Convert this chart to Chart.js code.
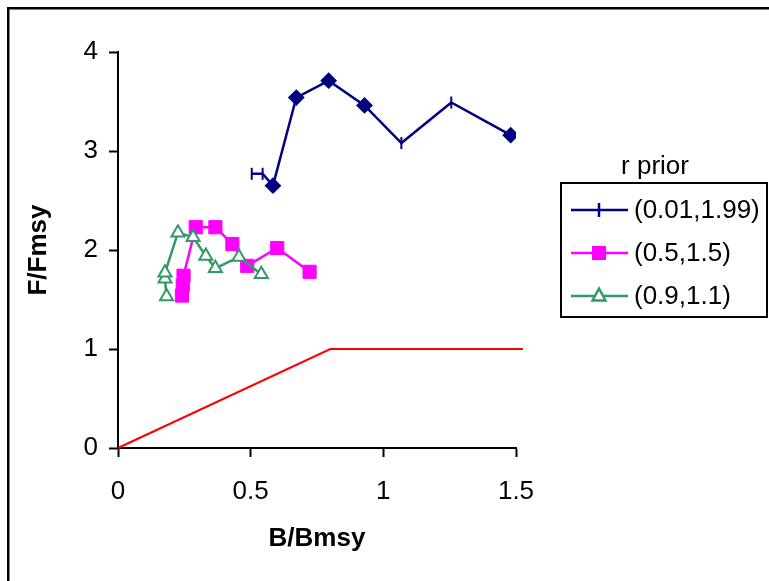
<!DOCTYPE html>
<html>
<head>
<meta charset="utf-8">
<script src="https://cdn.jsdelivr.net/npm/chart.js@4.4.1/dist/chart.umd.min.js"></script>
<style>
  body { margin: 0; background: #fff; }
  #wrap { width: 769px; height: 581px; }
</style>
</head>
<body>
<div id="wrap"><canvas id="chart" width="769" height="581"></canvas></div>
<script>
// r prior (0.01,1.99)
const wideX = [0.504, 0.545, 0.584, 0.672, 0.794, 0.929, 1.068, 1.256, 1.48];
const wideY = [2.77, 2.77, 2.65, 3.54, 3.71, 3.46, 3.08, 3.49, 3.16];
const wideMarks = ['tick', 'tick', 'diamond', 'diamond', 'diamond', 'diamond', 'tick', 'tick', 'diamond'];
// r prior (0.5,1.5)
const midX = [0.241, 0.244, 0.247, 0.293, 0.367, 0.431, 0.487, 0.600, 0.722];
const midY = [1.54, 1.64, 1.74, 2.23, 2.23, 2.06, 1.84, 2.02, 1.78];
// r prior (0.9,1.1)
const narrowX = [0.183, 0.177, 0.177, 0.226, 0.283, 0.331, 0.367, 0.456, 0.540];
const narrowY = [1.53, 1.71, 1.77, 2.175, 2.13, 1.94, 1.815, 1.93, 1.755];
// reference line
const refX = [0, 0.8, 1.526];
const refY = [0, 1, 1];

const seriesNames = ['(0.01,1.99)', '(0.5,1.5)', '(0.9,1.1)'];
const legendTitle = 'r prior';
const xTicks = [0, 0.5, 1, 1.5];
const yTicks = [0, 1, 2, 3, 4];

const FONT = "'Liberation Sans', Arial, sans-serif";
const NAVY = '#000080', PINK = '#FF00FF', GREEN = '#339966', RED = '#FF0000';

function pts(xs, ys) {
  return xs.map((x, i) => ({ x: x, y: ys[i] }));
}

// page frame + custom legend box
const framePlugin = {
  id: 'frame',
  beforeDraw(chart) {
    const ctx = chart.ctx;
    ctx.save();
    ctx.fillStyle = '#fff';
    ctx.fillRect(0, 0, chart.width, chart.height);
    ctx.fillStyle = '#000';
    ctx.fillRect(7, 7, 2.5, chart.height - 7);
    ctx.fillRect(7, 7, chart.width - 7, 2.5);
    ctx.restore();
  }
};

const legendPlugin = {
  id: 'boxLegend',
  afterDraw(chart) {
    const ctx = chart.ctx;
    ctx.save();
    ctx.font = '26px ' + FONT;
    ctx.fillStyle = '#000';
    ctx.textAlign = 'center';
    ctx.textBaseline = 'middle';
    ctx.fillText(legendTitle, 655, 167);
    ctx.lineWidth = 2;
    ctx.strokeStyle = '#000';
    ctx.strokeRect(561, 183, 206, 134);
    const rows = [210, 253, 296];
    const colors = [NAVY, PINK, GREEN];
    ctx.textAlign = 'left';
    rows.forEach((y, i) => {
      ctx.strokeStyle = colors[i];
      ctx.lineWidth = 2.5;
      ctx.beginPath();
      ctx.moveTo(571, y);
      ctx.lineTo(628, y);
      ctx.stroke();
      const cx = 599;
      if (i === 0) {
        ctx.beginPath();
        ctx.moveTo(cx, y - 7);
        ctx.lineTo(cx, y + 7);
        ctx.stroke();
      } else if (i === 1) {
        ctx.fillStyle = PINK;
        ctx.fillRect(cx - 7, y - 7, 14, 14);
      } else {
        ctx.fillStyle = '#fff';
        ctx.beginPath();
        ctx.moveTo(cx, y - 7.5);
        ctx.lineTo(cx + 6.5, y + 4.5);
        ctx.lineTo(cx - 6.5, y + 4.5);
        ctx.closePath();
        ctx.fill();
        ctx.stroke();
      }
      ctx.fillStyle = '#000';
      ctx.fillText(seriesNames[i], 634, y + 1);
    });
    ctx.restore();
  }
};

const wideStyle = wideMarks.map(m => m === 'tick' ? 'line' : 'rectRot');
const wideRot = wideMarks.map(m => m === 'tick' ? 90 : 0);
const wideRad = wideMarks.map(m => m === 'tick' ? 6 : 7);

new Chart(document.getElementById('chart'), {
  type: 'scatter',
  data: {
    datasets: [
      {
        label: 'ref',
        data: pts(refX, refY),
        showLine: true,
        borderColor: RED,
        borderWidth: 2,
        pointRadius: 0,
        clip: false,
        order: 4
      },
      {
        label: seriesNames[0],
        data: pts(wideX, wideY),
        showLine: true,
        borderColor: NAVY,
        backgroundColor: NAVY,
        borderWidth: 2.5,
        pointStyle: wideStyle,
        pointRotation: wideRot,
        pointRadius: wideRad,
        pointBorderWidth: 2,
        order: 3
      },
      {
        label: seriesNames[1],
        data: pts(midX, midY),
        showLine: true,
        borderColor: PINK,
        backgroundColor: PINK,
        borderWidth: 2.5,
        pointStyle: 'rect',
        pointRadius: 9.3,
        pointBorderWidth: 1,
        order: 2
      },
      {
        label: seriesNames[2],
        data: pts(narrowX, narrowY),
        showLine: true,
        borderColor: GREEN,
        backgroundColor: '#fff',
        borderWidth: 2.5,
        pointStyle: 'triangle',
        pointRadius: 7.5,
        pointBorderWidth: 2,
        order: 1
      }
    ]
  },
  options: {
    responsive: false,
    animation: false,
    layout: { padding: { left: 8, top: 52, right: 253, bottom: 0 } },
    plugins: {
      legend: { display: false },
      tooltip: { enabled: false }
    },
    scales: {
      x: {
        type: 'linear',
        min: 0,
        max: 1.5,
        afterFit(scale) { scale.height = 133; },
        afterBuildTicks(scale) { scale.ticks = xTicks.map(v => ({ value: v })); },
        grid: { drawOnChartArea: false, drawTicks: true, tickLength: 9, tickWidth: 2, color: '#000' },
        border: { color: '#000', width: 2 },
        ticks: {
          color: '#000',
          padding: 19,
          font: { family: FONT, size: 26 },
          callback: v => String(v)
        },
        title: {
          display: true,
          text: 'B/Bmsy',
          color: '#000',
          font: { family: FONT, size: 26, weight: 'bold' },
          padding: { top: 0, bottom: 27 }
        }
      },
      y: {
        type: 'linear',
        min: 0,
        max: 4,
        afterFit(scale) { scale.width = 110; },
        afterBuildTicks(scale) { scale.ticks = yTicks.map(v => ({ value: v })); },
        grid: { drawOnChartArea: false, drawTicks: true, tickLength: 9, tickWidth: 2, color: '#000' },
        border: { color: '#000', width: 2 },
        ticks: {
          color: '#000',
          padding: 11,
          font: { family: FONT, size: 26 },
          callback: v => String(v)
        },
        title: {
          display: true,
          text: 'F/Fmsy',
          color: '#000',
          font: { family: FONT, size: 26, weight: 'bold' },
          padding: { top: 15, bottom: 0 }
        }
      }
    }
  },
  plugins: [framePlugin, legendPlugin]
});
</script>
</body>
</html>
